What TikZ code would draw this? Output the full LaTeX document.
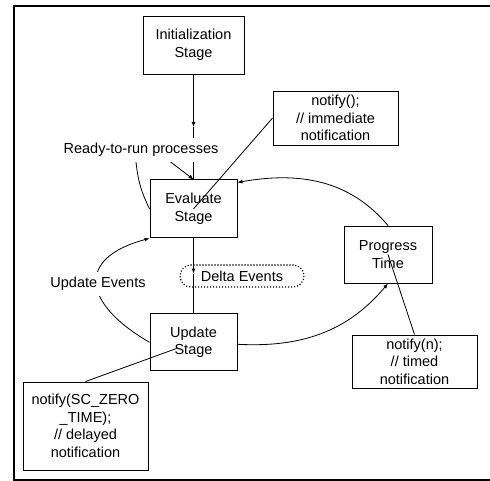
\documentclass[tikz,border=0pt]{standalone}
\usepackage{fontspec}
\setmainfont{Liberation Sans}
\usetikzlibrary{arrows.meta, backgrounds, calc, positioning}

\begin{document}
\begin{tikzpicture}[x=1pt, y=1pt,
node distance = 105pt,
stage/.style = {draw, line width=0.9pt, inner sep=0pt, align=center,
                font=\fontsize{14.5}{17.5}\selectfont},
note/.style  = {stage, minimum width=125pt},
lbl/.style   = {fill=white, inner xsep=2pt, inner ysep=5pt,
                font=\fontsize{14.5}{17.5}\selectfont},
arr/.style   = {-{Latex[length=5pt,width=4pt]}},
thin/.style  = {line width=0.8pt},
thick/.style = {line width=1.5pt},
                    ]
\useasboundingbox (0,0) rectangle (490,-481);
% frame, open on the right
\draw[line width=2pt] (490,-6) -| (14,-480) -- (490,-480);
%-------
\node (init)     [stage, minimum width=101pt, minimum height=58pt]
                 at (193.5,-45)                 {Initialization\\Stage};
\node (eval)     [stage, minimum width=87pt, minimum height=58pt,
                  below=of init]                {Evaluate\\Stage};
\node (update)   [stage, minimum width=87pt, minimum height=57pt,
                  below=75pt of eval]           {Update\\Stage};
\node (progress) [stage, minimum width=88pt, minimum height=57pt]
                 at (388,-254.5)                {Progress\\Time};
%
\node (delta)    [draw, dash pattern=on 0pt off 3pt, line cap=round, line width=1.6pt,
                  rounded corners=11pt, minimum width=124pt, minimum height=22pt,
                  inner sep=0pt, font=\fontsize{14.5}{17.5}\selectfont]
                 at (242,-276)                  {Delta Events};
%
\node (notimm)   [note, minimum height=54pt] at (335.5,-118)
                 {notify();\\// immediate\\notification};
\node (nottimed) [note, minimum height=53pt] at (414.5,-361.5)
                 {notify(n);\\// timed\\notification};
\node (notdelta) [note, minimum height=88pt] at (85.5,-426)
                 {notify(SC\_ZERO\\\_TIME);\\// delayed\\notification};
%
\node (ready)    [lbl] at (141,-150)            {Ready-to-run processes};
\node (updev)    [lbl] at (98,-284)             {Update Events};
%
\coordinate (initarr)  at ($(init.south)!0.5!(eval.north)$);
\coordinate (deltaarr) at ($(eval.south)!0.47!(update.north)$);
% edges
\begin{scope}[on background layer]
\draw[thick, arr]   (init)      -- (initarr);
\draw[thick]        (initarr)   -- (eval);
\draw[thick, arr]   (eval)      -- (deltaarr);
\draw[thick]        (deltaarr)  -- (update);
%---
\draw[thin, arr]    ([xshift=27pt,yshift=2pt] ready.south) -- (eval.north);
\draw[thin]         ([xshift=-5pt] ready.south) to[bend right=10] (eval.west);
%---
\draw[thin, arr]    (update.west) to[out=150, in=195, looseness=1.9] (eval.south west);
\draw[thin, arr]    (progress.north) to[out=130, in=10] ([yshift=-3pt] eval.north east);
\draw[thin, arr]    ([yshift=-2pt] update.east) to[out=-3, in=230] (progress.south);
%---
\draw[thin]         (notimm.west)    -- (eval.center);
\draw[thin]         (nottimed.north) -- (progress.center);
\draw[thin, shorten >=18pt] (notdelta.north) -- (update.center);
\end{scope}
\end{tikzpicture}
\end{document}
